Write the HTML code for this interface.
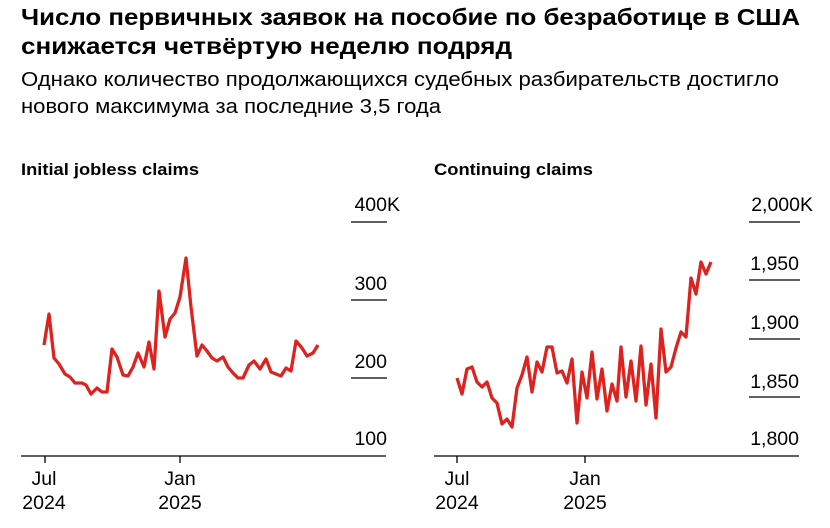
<!DOCTYPE html>
<html><head><meta charset="utf-8"><style>
body{margin:0;background:#fff;width:830px;height:523px;overflow:hidden;font-family:"Liberation Sans",sans-serif;color:#000}
</style></head><body>
<svg width="830" height="523" xmlns="http://www.w3.org/2000/svg" font-family="Liberation Sans, sans-serif">
<text x="21" y="25" font-size="23" font-weight="bold" textLength="779" lengthAdjust="spacingAndGlyphs">Число первичных заявок на пособие по безработице в США</text>
<text x="21" y="54" font-size="23" font-weight="bold" textLength="491" lengthAdjust="spacingAndGlyphs">снижается четвёртую неделю подряд</text>
<text x="21" y="86" font-size="20.5" textLength="758" lengthAdjust="spacingAndGlyphs">Однако количество продолжающихся судебных разбирательств достигло</text>
<text x="21" y="113" font-size="20.5" textLength="420" lengthAdjust="spacingAndGlyphs">нового максимума за последние 3,5 года</text>
<text x="21" y="175" font-size="17" font-weight="bold" textLength="178" lengthAdjust="spacingAndGlyphs">Initial jobless claims</text>
<text x="434" y="175" font-size="17" font-weight="bold" textLength="159" lengthAdjust="spacingAndGlyphs">Continuing claims</text>
<g stroke="#000" stroke-width="1.3">
<line x1="351" y1="222" x2="387" y2="222"/><line x1="351" y1="300" x2="387" y2="300"/><line x1="351" y1="378" x2="387" y2="378"/>
<line x1="21" y1="456" x2="386" y2="456"/><line x1="45" y1="456" x2="45" y2="463"/><line x1="180" y1="456" x2="180" y2="463"/>
<line x1="749" y1="222" x2="800" y2="222"/><line x1="749" y1="280" x2="800" y2="280"/><line x1="749" y1="339" x2="800" y2="339"/><line x1="749" y1="397" x2="800" y2="397"/>
<line x1="434" y1="456" x2="799" y2="456"/><line x1="457" y1="456" x2="457" y2="463"/><line x1="585" y1="456" x2="585" y2="463"/>
</g>
<g font-size="19.5" text-anchor="end">
<text x="400" y="211">400K</text><text x="387" y="290">300</text><text x="387" y="368">200</text><text x="387" y="445">100</text>
<text x="813" y="211">2,000K</text><text x="799" y="270">1,950</text><text x="799" y="329">1,900</text><text x="799" y="388">1,850</text><text x="799" y="445">1,800</text>
</g>
<g font-size="19.5" text-anchor="middle">
<text x="44" y="485">Jul</text><text x="44" y="509">2024</text>
<text x="180" y="485">Jan</text><text x="180" y="509">2025</text>
<text x="457" y="485">Jul</text><text x="457" y="509">2024</text>
<text x="585" y="485">Jan</text><text x="585" y="509">2025</text>
</g>
<g fill="none" stroke="#dc2320" stroke-width="3.3" stroke-linejoin="round">
<polyline points="44,345 49,314 54,358 59,364 65,374 70,377 75,383 82,383 86,385 91,394 97,388 102,392 107,392 112,349 117,357 123,375 128,376 133,367 138,353 144,367 149,342 154,369 159,291 165,337 170,319 175,313 180,297 186,258 191,307 197,356 202,345 207,351 212,358 217,361 223,357 228,367 233,373 238,378 243,378 249,365 254,361 260,369 266,359 271,372 276,374 281,376 286,368 291,371 296,341 302,348 307,356 313,353 318,345"/>
<polyline points="457,378 462,394 467,369 472,367 477,382 482,387 487,382 492,398 497,403 502,424 507,419 512,427 517,388 522,375 527,357 532,392 537,362 542,372 547,347 552,347 557,373 562,371 567,383 572,359 577,423 582,372 587,398 592,352 597,399 602,369 607,411 612,384 617,401 621,347 626,397 631,361 636,401 641,346 646,405 651,364 656,418 661,329 666,372 671,367 676,348 681,332 686,337 691,278 696,294 701,262 706,274 711,262"/>
</g>
</svg>
</body></html>
